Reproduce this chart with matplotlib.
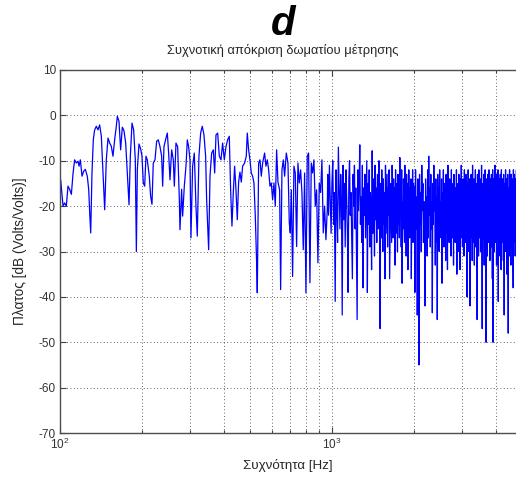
import numpy as np
import matplotlib
matplotlib.use('Agg')
import matplotlib.pyplot as plt
from matplotlib.ticker import LogLocator, FixedLocator, NullFormatter

plt.rcParams['font.family'] = ['Liberation Sans', 'DejaVu Sans']
plt.rcParams['axes.unicode_minus'] = False
plt.rcParams['mathtext.fontset'] = 'custom'
plt.rcParams['mathtext.rm'] = 'Liberation Sans'
plt.rcParams['mathtext.it'] = 'Liberation Sans:italic'
plt.rcParams['mathtext.bf'] = 'Liberation Sans:bold'

# ---- data ----
# low-frequency part: individual turning points (Hz, dB)
low_freq = [100.0, 100.6, 102.6, 104.0, 105.5, 107.0, 108.5, 110.1, 111.7, 113.2,
            114.8, 116.5, 117.5, 118.8, 120.5, 122.2, 123.9, 126.0, 127.5, 128.6,
            129.7, 131.1, 132.6, 134.1, 136.0, 137.9, 139.9, 141.9, 143.9, 146.0,
            148.0, 150.2, 152.3, 154.4, 156.6, 158.9, 161.1, 162.5, 164.8, 167.1,
            169.5, 171.9, 174.4, 176.8, 179.4, 181.4, 184.0, 186.6, 189.2, 190.9,
            192.5, 195.2, 198.0, 200.2, 202.5, 204.8,
            207.1, 209.4, 213.0, 215.4, 217.9, 220.3, 223.5, 226.7, 229.9, 233.2,
            236.5, 238.5, 241.2, 245.3, 248.1, 250.9, 253.8, 257.4, 261.0, 263.3,
            267.0, 270.8, 274.7, 276.2, 280.1, 282.5, 286.5, 290.6, 293.9, 297.2,
            300.6, 303.1, 307.4, 311.8, 316.2, 319.8, 324.3, 329.0, 333.6, 338.4,
            343.2, 346.1, 352.1, 356.1, 361.2, 366.3, 370.5, 374.7, 380.0, 385.4,
            390.9, 396.3, 402.0, 407.7, 413.4, 419.3,
            424.1, 428.9, 433.8, 438.7, 443.7, 448.7, 453.8, 458.9, 464.2, 469.4,
            477.4, 484.2, 488.3, 493.9, 499.5, 505.1, 510.9, 516.7, 522.6, 528.5,
            531.5, 537.6, 543.7, 549.9, 556.1, 565.6, 572.0, 578.5, 585.1, 591.7,
            598.4, 605.2, 612.1, 619.0, 626.1, 633.2, 642.2, 647.7, 655.0, 662.5,
            669.9, 679.5, 689.1, 696.9, 702.8, 708.8, 716.8, 724.9, 733.2, 741.5,
            749.9, 758.4, 767.0, 775.7, 784.5, 793.4, 802.4, 811.5, 820.7, 830.0,
            839.5, 849.0, 858.6, 868.4, 878.2, 888.2, 898.3, 908.5, 918.8, 929.2,
            939.7, 950.4, 961.2]
low_db = [-14.0, -14.3, -20.0, -19.3, -20.0, -15.6, -16.3, -17.4, -12.7, -9.8,
          -10.5, -10.1, -11.2, -9.8, -13.4, -12.3, -11.9, -13.4, -16.3, -21.5,
          -25.9, -12.7, -5.3, -3.2, -2.4, -3.2, -2.1, -4.6, -12.7, -20.8,
          -9.8, -5.0, -6.1, -6.8, -9.0, -5.3, -2.4, -0.2, -1.3, -7.6,
          -2.6, -3.4, -6.1, -12.7, -19.7, -9.0, -1.7, -3.2, -9.8, -30.0,
          -11.9, -6.3, -7.4, -9.0, -14.9, -15.6,
          -9.0, -9.8, -13.4, -17.8, -19.6, -10.5, -9.8, -5.7, -5.4, -6.9,
          -9.0, -15.6, -6.9, -5.0, -3.9, -8.3, -14.2, -7.6, -9.8, -15.6,
          -6.1, -6.9, -18.6, -25.2, -16.3, -22.2, -15.6, -11.2, -5.4, -6.9,
          -9.8, -27.0, -11.2, -8.3, -20.0, -26.6, -9.0, -3.9, -2.4, -4.3,
          -9.0, -18.6, -29.6, -13.4, -8.3, -7.6, -12.7, -4.3, -3.9, -9.0,
          -9.8, -6.1, -9.8, -6.9, -5.4, -4.6,
          -16.4, -24.4, -17.0, -11.2, -16.4, -23.0, -14.7, -12.5, -14.7, -11.2,
          -10.5, -9.0, -3.9, -7.6, -9.8, -12.7, -13.4, -14.9, -22.2, -32.5,
          -39.1, -10.5, -9.8, -13.4, -10.5, -8.3, -11.2, -9.8, -12.0, -15.6,
          -14.9, -18.6, -14.9, -20.0, -7.6, -14.7, -16.4, -38.4, -12.0, -9.8,
          -13.4, -8.3, -10.5, -23.7, -25.9, -16.4, -35.5, -11.2, -12.7, -28.9,
          -10.5, -14.9, -12.0, -17.0, -29.6, -12.7, -39.1, -9.0, -8.3, -36.9,
          -10.5, -12.7, -9.8, -20.0, -16.4, -32.5, -14.9, -17.0, -9.8, -25.9,
          -20.0, -27.4, -20.8]

# dense part 1: 965 Hz .. 1994 Hz, one value every 7 Hz
mid_start, mid_step = 965, 7
mid_db = [-13, -22, -11, -19, -26, -15, -10, -24, -17, -41,
          -12, -21, -28, -7, -16, -25, -13, -19, -44, -11,
          -23, -15, -29, -12, -18, -26, -39, -14, -10, -22,
          -17, -27, -36, -13, -20, -11, -25, -16, -30, -45,
          -12, -21, -15, -6.5, -24, -18, -28, -11, -38, -16,
          -22, -13, -27, -19, -10, -39, -15, -24, -12, -29,
          -17, -21, -34, -7.8, -26, -14, -20, -31, -11, -23,
          -16, -28, -13, -19, -25, -10, -22, -47, -15, -27,
          -12, -20, -30, -14, -24, -17, -36, -11, -26, -19,
          -13, -29, -16, -22, -12, -36, -25, -15, -21, -28,
          -11, -18, -27, -14, -23, -16, -33, -12, -26, -20,
          -15, -30, -13, -24, -18, -27, -9.3, -22, -16, -29,
          -12, -37, -19, -25, -14, -21, -28, -11, -24, -17,
          -31, -13, -22, -15, -34, -26, -12, -20, -27, -16,
          -23, -14, -36, -19, -25, -12, -28, -15]

# dense part 2: 2010 Hz .. 4800 Hz, one value every 10 Hz
high_start, high_step = 2010, 10
high_db = [-16, -39, -12, -25, -18, -44, -14, -27, -55, -13,
           -24, -17, -30, -11, -21, -15, -28, -19, -26, -42,
           -14, -23, -18, -31, -12, -27, -9, -22, -16, -29,
           -13, -25, -19, -43.5, -15, -24, -11, -21, -17, -33,
           -14, -28, -18, -45, -13, -22, -16, -30, -12, -25,
           -19, -27, -14, -37, -17, -23, -12, -29, -15, -21,
           -18, -32, -13, -26, -16, -34, -11, -24, -19, -28,
           -14, -22, -17, -31, -12, -25, -18, -27, -15, -33,
           -13, -24, -19, -28, -16, -22, -12, -35, -17, -26,
           -15, -30, -13, -23, -18, -34, -14, -27, -11, -21,
           -17, -29, -14, -25, -19, -31, -12, -24, -16, -28,
           -13, -22, -18, -40, -15, -26, -12, -30, -17, -23,
           -14, -42, -19, -27, -13, -24, -16, -32, -11, -25,
           -18, -28, -14, -33, -16, -22, -12, -29, -19, -26,
           -15, -45, -13, -24, -17, -31, -12, -27, -18, -23,
           -14, -30, -16, -25, -11, -28, -47, -19, -22, -15,
           -27, -13, -33, -17, -24, -12, -29, -18, -50, -14,
           -26, -16, -31, -13, -23, -19, -28, -12, -25, -17,
           -32, -14, -22, -18, -29, -13, -27, -16, -36, -12,
           -50, -17, -24, -14, -30, -19, -26, -11, -28, -15,
           -23, -18, -33, -13, -27, -16, -25, -12, -41, -17,
           -29, -14, -24, -19, -31, -13, -22, -16, -34, -12,
           -26, -18, -28, -14, -23, -17, -32, -13, -25, -44,
           -15, -27, -19, -30, -12, -24, -17, -29, -14, -35,
           -18, -25, -13, -28, -48, -16, -22, -19, -31, -12,
           -27, -15, -24, -18, -33, -13, -26, -17, -29, -14,
           -23, -19, -30, -38, -12, -25, -16, -28, -13, -24,
           -18, -31, -14, -26, -17, -22, -12, -29, -15, -27]

y_ticks = [-70, -60, -50, -40, -30, -20, -10, 0, 10]
title_text = 'd'
subtitle_text = 'Συχνοτική απόκριση δωματίου μέτρησης'
xlabel_text = 'Συχνότητα [Hz]'
ylabel_text = 'Πλατος [dB (Volts/Volts)]'

freq = np.concatenate([np.array(low_freq),
                       mid_start + mid_step * np.arange(len(mid_db)),
                       high_start + high_step * np.arange(len(high_db))])
db = np.concatenate([low_db, mid_db, high_db])

W, H = 516, 479
fig = plt.figure(figsize=(W / 100, H / 100), dpi=100)
ax = fig.add_axes([60 / W, 46 / H, 462 / W, 363 / H])
ax.semilogx(freq, db, color='#0000ff', lw=0.9)
ax.set_xlim(100, 5000)
ax.set_ylim(-70, 10)
ax.set_yticks(y_ticks)
ax.set_yticklabels([str(v) for v in y_ticks])
ax.xaxis.set_major_locator(FixedLocator([100, 1000]))
ax.xaxis.set_minor_locator(LogLocator(base=10, subs=range(2, 10)))
ax.xaxis.set_minor_formatter(NullFormatter())
ax.set_xticklabels([r'$\mathdefault{10^{2}}$', r'$\mathdefault{10^{3}}$'])

grid_style = dict(ls=(0, (1, 3)), color='0.2', lw=0.6)
ax.grid(True, which='major', **grid_style)
ax.grid(True, which='minor', axis='x', **grid_style)
ax.set_axisbelow(True)

ax.tick_params(which='both', direction='in', top=True, right=True,
               labelsize=8.5, colors='0.25', labelcolor='0.2', pad=3)
ax.tick_params(which='major', length=4, width=0.8)
ax.tick_params(which='minor', length=2.5, width=0.8)
for s in ax.spines.values():
    s.set_color('0.3')
    s.set_linewidth(1.0)

fig.text(283 / W, 1 - 35 / H, title_text, fontsize=29, fontweight='bold',
         fontstyle='italic', ha='center', va='baseline', color='black')
fig.text(283 / W, 1 - 54 / H, subtitle_text, fontsize=9.3, ha='center',
         va='baseline', color='0.15')
fig.text(288 / W, 1 - 466 / H, xlabel_text, fontsize=9.6, ha='center',
         va='center', color='0.15')
fig.text(20 / W, 1 - 251 / H, ylabel_text, fontsize=9.8, ha='center',
         va='center', rotation=90, color='0.15')

fig.savefig('out.png', dpi=100)
